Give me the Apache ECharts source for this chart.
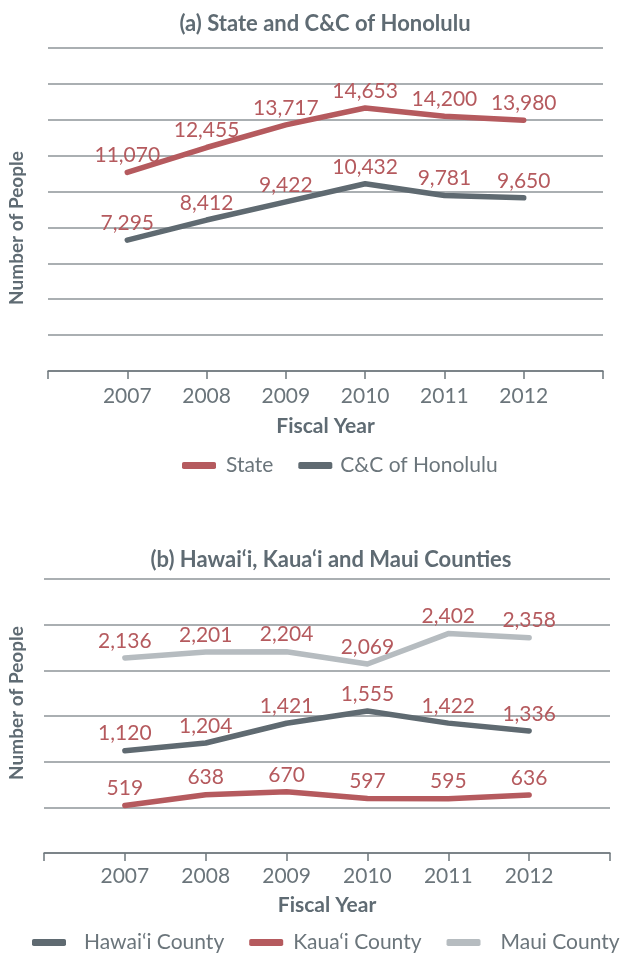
<!DOCTYPE html>
<html>
<head>
<meta charset="utf-8">
<script src="https://cdn.jsdelivr.net/npm/echarts@6/dist/echarts.min.js"></script>
<style>
  html, body { margin: 0; padding: 0; background: #fff; }
  #chart { width: 624px; height: 954px; }
</style>
</head>
<body>
<div id="chart"></div>
<script>
const years = [2007, 2008, 2009, 2010, 2011, 2012]

// (a) State and C&C of Honolulu
const stateVals = [11070, 12455, 13717, 14653, 14200, 13980]
const honoluluVals = [7295, 8412, 9422, 10432, 9781, 9650]

// (b) neighbour island counties
const hawaiiVals = [1120, 1204, 1421, 1555, 1422, 1336]
const kauaiVals = [519, 638, 670, 597, 595, 636]
const mauiVals = [2136, 2201, 2204, 2069, 2402, 2358]

const RED = '#b55a5e'
const DARK = '#5f6a71'
const LIGHT = '#b6bcc0'
const TEXT = '#6b757b'
const TITLE = '#5f6b73'
const GRID = '#8e9498'
const FONT = 'Lato'

const pairs = vals => years.map((y, i) => [y, vals[i]])

function xAxis(gridIndex, labelMargin, nameGap) {
  return {
    type: 'value',
    gridIndex,
    min: 2006,
    max: 2013,
    interval: 1,
    name: 'Fiscal Year',
    nameLocation: 'middle',
    nameGap,
    nameTextStyle: { color: TITLE, fontSize: 21, fontWeight: 'bold', fontFamily: FONT },
    axisLine: { lineStyle: { color: '#6e777c', width: 1.5 } },
    axisTick: { show: true, length: 8, lineStyle: { color: '#6e777c', width: 1.5 } },
    axisLabel: {
      color: TEXT, fontSize: 21, fontFamily: FONT, margin: labelMargin,
      formatter: v => (v >= 2007 && v <= 2012 ? String(v) : '')
    },
    splitLine: { show: false }
  }
}

function yAxis(gridIndex, max, interval) {
  return {
    type: 'value',
    gridIndex,
    min: 0,
    max,
    interval,
    axisLine: { show: false },
    axisTick: { show: false },
    axisLabel: { show: false },
    splitLine: { lineStyle: { color: GRID, width: 1.5 } }
  }
}

function line(name, vals, color, idx) {
  return {
    name,
    type: 'line',
    xAxisIndex: idx,
    yAxisIndex: idx,
    data: pairs(vals),
    showSymbol: true,
    symbol: 'circle',
    symbolSize: 1,
    lineStyle: { color, width: 5.5, cap: 'round', join: 'round' },
    itemStyle: { color },
    label: {
      show: true,
      position: 'top',
      distance: 6,
      color: RED,
      fontSize: 21,
      fontFamily: FONT,
      formatter: p => p.value[1].toLocaleString('en-US')
    },
    z: 3
  }
}

const legendText = { color: TEXT, fontSize: 21, fontFamily: FONT }
const legendItem = (name, pad) => ({ name, textStyle: { padding: [0, 0, 0, pad] } })

const chart = echarts.init(document.getElementById('chart'))
chart.setOption({
  animation: false,
  textStyle: { fontFamily: FONT },
  title: [
    { text: '(a) State and C&C of Honolulu', left: 320, top: 8, textAlign: 'center',
      textStyle: { color: TITLE, fontSize: 22, fontWeight: 'bold', fontFamily: FONT } },
    { text: '(b) Hawai‘i, Kaua‘i and Maui Counties', left: 326, top: 544, textAlign: 'center',
      textStyle: { color: TITLE, fontSize: 22, fontWeight: 'bold', fontFamily: FONT } }
  ],
  legend: [
    { data: [legendItem('State', 5), legendItem('C&C of Honolulu', 3)],
      top: 455, left: 182, padding: 0, itemGap: 25, width: 440,
      icon: 'roundRect', itemWidth: 34, itemHeight: 7, textStyle: legendText },
    { data: [legendItem('Hawai‘i County', 13), legendItem('Kaua‘i County', 5), legendItem('Maui County', 15)],
      top: 932, left: 32, padding: 0, itemGap: 25, width: 700,
      icon: 'roundRect', itemWidth: 34, itemHeight: 7, textStyle: legendText }
  ],
  grid: [
    { left: 48, right: 21, top: 48, height: 323 },
    { left: 44, right: 14, top: 579, height: 274 }
  ],
  xAxis: [xAxis(0, 15, 45), xAxis(1, 13, 42)],
  yAxis: [yAxis(0, 18000, 2000), yAxis(1, 3000, 500)],
  graphic: [
    { type: 'text', x: 17, y: 228, rotation: Math.PI / 2,
      style: { text: 'Number of People', fill: TITLE, font: 'bold 19px Lato', align: 'center', verticalAlign: 'middle' } },
    { type: 'text', x: 17, y: 703, rotation: Math.PI / 2,
      style: { text: 'Number of People', fill: TITLE, font: 'bold 19px Lato', align: 'center', verticalAlign: 'middle' } }
  ],
  series: [
    line('State', stateVals, RED, 0),
    line('C&C of Honolulu', honoluluVals, DARK, 0),
    line('Hawai‘i County', hawaiiVals, DARK, 1),
    line('Kaua‘i County', kauaiVals, RED, 1),
    line('Maui County', mauiVals, LIGHT, 1)
  ]
})
</script>
</body>
</html>
